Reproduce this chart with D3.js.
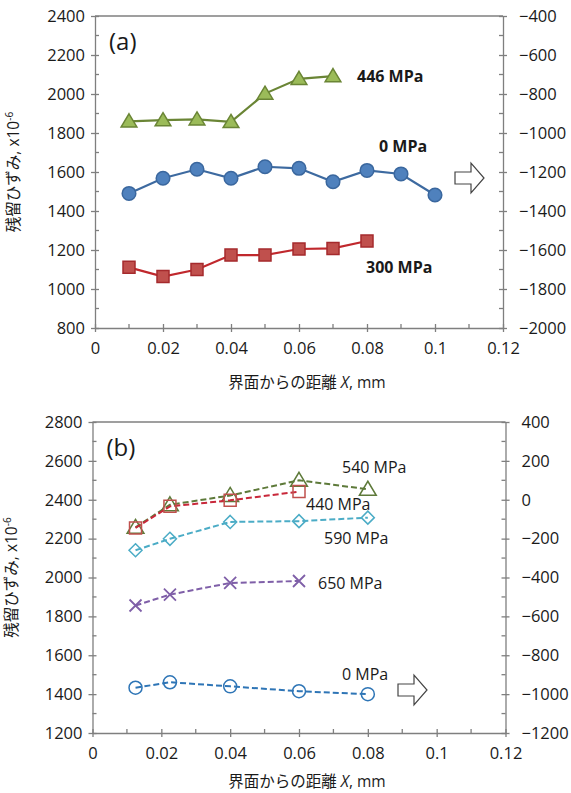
<!DOCTYPE html>
<html>
  <head>
    <meta charset="utf-8">
    <title>残留ひずみ</title>
    <script src="https://cdn.jsdelivr.net/npm/d3@7"></script>
    <style>
      body { margin: 0; background: #fff; }
      text { font-family: "Open Sans", "Noto Sans CJK JP", sans-serif; fill: #1a1a1a; }
      .axis path, .axis line { stroke: #7f7f7f; stroke-width: 1.3; }
      .axis text { font-size: 16.5px; fill: #1a1a1a; }
      .lbl { font-size: 16px; }
      .ttl { font-size: 15.5px; }
    </style>
  </head>
  <body>
    <div id="chart"></div>
    <script>
      // panel (a) data
      var xA446 = [0.01, 0.02, 0.03, 0.04, 0.05, 0.06, 0.07];
      var yA446 = [1860, 1866, 1870, 1857, 2002, 2078, 2092];
      var xA0 = [0.01, 0.02, 0.03, 0.04, 0.05, 0.06, 0.07, 0.08, 0.09, 0.1];
      var yA0 = [1490, 1568, 1614, 1568, 1627, 1619, 1550, 1608, 1590, 1482];
      var xA300 = [0.01, 0.02, 0.03, 0.04, 0.05, 0.06, 0.07, 0.08];
      var yA300 = [1111, 1064, 1100, 1174, 1174, 1205, 1208, 1246];

      // panel (b) data
      var xB = [0.0125, 0.0225, 0.04, 0.06, 0.08];
      var yB540 = [2258, 2374, 2422, 2500, 2454];
      var yB440 = [2255, 2366, 2397, 2442];
      var yB590 = [2140, 2199, 2286, 2290, 2308];
      var yB650 = [1856, 1912, 1972, 1982];
      var yB0 = [1433, 1461, 1440, 1415, 1400];

      // axis ticks
      var xTicks = [0, 0.02, 0.04, 0.06, 0.08, 0.1, 0.12];
      var xTickLabels = ["0", "0.02", "0.04", "0.06", "0.08", "0.1", "0.12"];
      var yTicksA = [800, 1000, 1200, 1400, 1600, 1800, 2000, 2200, 2400];
      var y2TicksA = [-2000, -1800, -1600, -1400, -1200, -1000, -800, -600, -400];
      var yTicksB = [1200, 1400, 1600, 1800, 2000, 2200, 2400, 2600, 2800];
      var y2TicksB = [-1200, -1000, -800, -600, -400, -200, 0, 200, 400];

      var svg = d3.select("#chart").append("svg")
        .attr("width", 571).attr("height", 793);

      function zip(xs, ys) {
        return ys.map(function(v, i) { return [xs[i], v]; });
      }

      // marker shapes
      var shapes = {
        triangle: function(r) { return "M0," + (-r) + "L" + (r * 1.05) + "," + (r * 0.75) + "L" + (-r * 1.05) + "," + (r * 0.75) + "Z"; },
        square: function(r) { return "M" + (-r) + "," + (-r) + "h" + (2 * r) + "v" + (2 * r) + "h" + (-2 * r) + "Z"; },
        diamond: function(r) { return "M0," + (-r) + "L" + r + ",0L0," + r + "L" + (-r) + ",0Z"; },
        circle: function(r) { return d3.symbol().type(d3.symbolCircle).size(Math.PI * r * r)(); },
        cross: function(r) { return "M" + (-r) + "," + (-r) + "L" + r + "," + r + "M" + (-r) + "," + r + "L" + r + "," + (-r); }
      };

      function drawPanel(o) {
        var g = svg.append("g");
        var x = d3.scaleLinear().domain([0, 0.12]).range([o.left, o.right]);
        var y = d3.scaleLinear().domain(o.yDomain).range([o.bottom, o.top]);
        var y2 = d3.scaleLinear().domain(o.y2Domain).range([o.bottom, o.top]);
        var minorX = d3.range(0.01, 0.12, 0.02);
        var minorY = o.yTicks.slice(0, -1).map(function(v) { return v + 100; });
        var minorY2 = o.y2Ticks.slice(0, -1).map(function(v) { return v + 100; });

        // top border
        g.append("line")
          .attr("x1", o.left).attr("x2", o.right)
          .attr("y1", o.top).attr("y2", o.top)
          .attr("stroke", "#7f7f7f").attr("stroke-width", 1.3);

        // x axis
        var gx = g.append("g").attr("class", "axis")
          .attr("transform", "translate(0," + o.bottom + ")")
          .call(d3.axisBottom(x).tickValues(xTicks).tickSize(4).tickSizeOuter(0)
            .tickFormat(function(d, i) { return xTickLabels[i]; }));
        gx.selectAll(".tick line").attr("y1", -4);
        gx.selectAll(".tick text").attr("y", 14);
        g.append("g").selectAll("line").data(minorX).join("line")
          .attr("x1", function(d) { return x(d); }).attr("x2", function(d) { return x(d); })
          .attr("y1", o.bottom).attr("y2", o.bottom - 4)
          .attr("stroke", "#7f7f7f").attr("stroke-width", 1.3);

        // left axis
        var gy = g.append("g").attr("class", "axis")
          .attr("transform", "translate(" + o.left + ",0)")
          .call(d3.axisLeft(y).tickValues(o.yTicks).tickSize(4).tickSizeOuter(0).tickFormat(d3.format("d")));
        gy.selectAll(".tick line").attr("x1", 4);
        gy.selectAll(".tick text").attr("x", -10);
        g.append("g").selectAll("line").data(minorY).join("line")
          .attr("x1", o.left).attr("x2", o.left + 4)
          .attr("y1", function(d) { return y(d); }).attr("y2", function(d) { return y(d); })
          .attr("stroke", "#7f7f7f").attr("stroke-width", 1.3);

        // right axis
        var gy2 = g.append("g").attr("class", "axis")
          .attr("transform", "translate(" + o.right + ",0)")
          .call(d3.axisRight(y2).tickValues(o.y2Ticks).tickSize(4).tickSizeOuter(0).tickFormat(d3.format("d")));
        gy2.selectAll(".tick line").attr("x1", -4);
        gy2.selectAll(".tick text").attr("x", 16);
        g.append("g").selectAll("line").data(minorY2).join("line")
          .attr("x1", o.right).attr("x2", o.right - 4)
          .attr("y1", function(d) { return y2(d); }).attr("y2", function(d) { return y2(d); })
          .attr("stroke", "#7f7f7f").attr("stroke-width", 1.3);

        // axis titles
        var xt = g.append("text").attr("class", "ttl")
          .attr("x", (o.left + o.right) / 2 + 8).attr("y", o.bottom + o.titleGap)
          .attr("text-anchor", "middle");
        xt.append("tspan").text("界面からの距離 ");
        xt.append("tspan").attr("font-style", "italic").text("X");
        xt.append("tspan").text(", mm");

        var yt = g.append("text").attr("class", "ttl")
          .attr("transform", "translate(" + (o.left - 76) + "," + ((o.top + o.bottom) / 2) + ") rotate(-90)")
          .attr("text-anchor", "middle");
        yt.append("tspan").text("残留ひずみ, x10");
        yt.append("tspan").attr("dy", -6).attr("font-size", 10).text("-6");

        // panel tag
        g.append("text").attr("x", o.left + 14).attr("y", o.top + 34)
          .attr("font-size", 24).text(o.tag);

        var line = d3.line()
          .x(function(d) { return x(d[0]); })
          .y(function(d) { return y(d[1]); });

        o.series.forEach(function(s) {
          var pts = zip(s.x, s.y);
          g.append("path").datum(pts)
            .attr("d", line)
            .attr("fill", "none")
            .attr("stroke", s.line)
            .attr("stroke-width", o.dashed ? 2 : 2.2)
            .attr("stroke-dasharray", o.dashed ? "6,3" : null);
          g.append("g").selectAll("path").data(pts).join("path")
            .attr("transform", function(d) {
              return "translate(" + x(d[0]) + "," + y(d[1]) + ")";
            })
            .attr("d", shapes[s.symbol](s.r))
            .attr("fill", s.fill)
            .attr("stroke", s.stroke)
            .attr("stroke-width", s.symbol === "cross" ? 1.8 : 1.5);
          g.append("text").attr("class", "lbl")
            .attr("x", s.lx).attr("y", s.ly)
            .attr("font-weight", s.bold ? "bold" : null)
            .text(s.label);
        });

        // outline arrow pointing to right axis
        var ax = o.arrow[0], ay = o.arrow[1];
        g.append("path")
          .attr("d", "M" + ax + "," + (ay - 6) + "h16v-9l13,15l-13,15v-9h-16z")
          .attr("fill", "#fff").attr("stroke", "#444").attr("stroke-width", 1.2);
      }

      drawPanel({
        tag: "(a)", left: 95, right: 503, top: 16, bottom: 328, titleGap: 60,
        yDomain: [800, 2400], y2Domain: [-2000, -400],
        yTicks: yTicksA, y2Ticks: y2TicksA, dashed: false,
        arrow: [455, 178],
        series: [
          { x: xA446, y: yA446, line: "#6a8535", fill: "#9bbb59", stroke: "#6a8535",
            symbol: "triangle", r: 7.5, label: "446 MPa", lx: 357, ly: 82, bold: true },
          { x: xA0, y: yA0, line: "#3d6aa0", fill: "#4f81bd", stroke: "#3a679e",
            symbol: "circle", r: 6.8, label: "0 MPa", lx: 379, ly: 152, bold: true },
          { x: xA300, y: yA300, line: "#c0282d", fill: "#c0504d", stroke: "#a52a2d",
            symbol: "square", r: 6, label: "300 MPa", lx: 366, ly: 273, bold: true }
        ]
      });

      drawPanel({
        tag: "(b)", left: 92.5, right: 505.5, top: 422, bottom: 733, titleGap: 54,
        yDomain: [1200, 2800], y2Domain: [-1200, 400],
        yTicks: yTicksB, y2Ticks: y2TicksB, dashed: true,
        arrow: [398, 690],
        series: [
          { x: xB, y: yB540, line: "#5e7a3a", fill: "none", stroke: "#5e7a3a",
            symbol: "triangle", r: 8, label: "540 MPa", lx: 342, ly: 473 },
          { x: xB, y: yB440, line: "#c8283a", fill: "none", stroke: "#c0504d",
            symbol: "square", r: 6, label: "440 MPa", lx: 306, ly: 510 },
          { x: xB, y: yB590, line: "#4bacc6", fill: "none", stroke: "#4bacc6",
            symbol: "diamond", r: 6.5, label: "590 MPa", lx: 324, ly: 544 },
          { x: xB, y: yB650, line: "#7f5fa8", fill: "none", stroke: "#7f5fa8",
            symbol: "cross", r: 6, label: "650 MPa", lx: 318, ly: 589 },
          { x: xB, y: yB0, line: "#2e75b6", fill: "none", stroke: "#2e75b6",
            symbol: "circle", r: 6.5, label: "0 MPa", lx: 342, ly: 680 }
        ]
      });
    </script>
  </body>
</html>
